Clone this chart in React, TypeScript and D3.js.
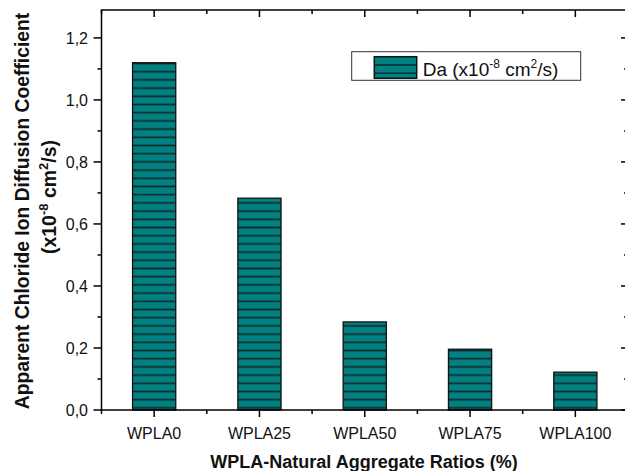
import React from "react";
import * as d3 from "d3";

const categories = ["WPLA0", "WPLA25", "WPLA50", "WPLA75", "WPLA100"];
const values = [1.12, 0.683, 0.284, 0.196, 0.122];
const yTicks = [0, 0.2, 0.4, 0.6, 0.8, 1.0, 1.2];
const yMinorTicks = [0.1, 0.3, 0.5, 0.7, 0.9, 1.1];

const W = 625;
const H = 471;
const left = 101.5;
const right = 628;
const top = 10;
const bottom = 410;

export default function App() {
  const x = d3.scaleBand<string>().domain(categories).range([left, right]).padding(0);
  const y = d3.scaleLinear().domain([0, 1.29]).range([bottom, top]);
  const bw = x.bandwidth();
  const barW = bw * 0.41;
  const fmt = (v: number) => d3.format(".1f")(v).replace(".", ",");
  const font = "'Liberation Sans', Arial, sans-serif";
  const teal = "#008080";
  const hatch = "#0f2b2b";
  const minorX = categories.slice(0, -1).map((c) => (x(c) as number) + bw);
  minorX.unshift(left);

  return (
    <svg width={W} height={H} style={{ position: "absolute", left: 0, top: 0 }} fontFamily={font}>
      <defs>
        <pattern id="hatch" patternUnits="userSpaceOnUse" x={0} y={67.6} width={20} height={8.2}>
          <rect width={20} height={8.2} fill={teal} />
          <line x1={0} x2={20} y1={4.1} y2={4.1} stroke={hatch} strokeWidth={1.7} />
        </pattern>
      </defs>
      <rect width={W} height={H} fill="#fff" />

      {categories.map((c, i) => {
        const cx = (x(c) as number) + bw / 2;
        return (
          <rect
            key={c}
            x={cx - barW / 2}
            y={y(values[i])}
            width={barW}
            height={bottom - y(values[i])}
            fill="url(#hatch)"
            stroke="#111"
            strokeWidth={1.3}
          />
        );
      })}

      {/* frame */}
      <rect x={left} y={top} width={right - left} height={bottom - top} fill="none" stroke="#000" strokeWidth={1.5} />

      {/* y ticks */}
      {yTicks.map((t) => (
        <g key={t}>
          <line x1={left - 8} x2={left} y1={y(t)} y2={y(t)} stroke="#000" strokeWidth={1.5} />
          <line x1={right - 7} x2={right} y1={y(t)} y2={y(t)} stroke="#000" strokeWidth={1.5} />
          <text x={88} y={y(t)} dy="0.35em" textAnchor="end" fontSize={16} fill="#111">
            {fmt(t)}
          </text>
        </g>
      ))}
      {yMinorTicks.map((t) => (
        <g key={t}>
          <line x1={left - 4} x2={left} y1={y(t)} y2={y(t)} stroke="#000" strokeWidth={1.5} />
          <line x1={right - 4} x2={right} y1={y(t)} y2={y(t)} stroke="#000" strokeWidth={1.5} />
        </g>
      ))}

      {/* x ticks */}
      {categories.map((c) => {
        const cx = (x(c) as number) + bw / 2;
        return (
          <g key={c}>
            <line x1={cx} x2={cx} y1={bottom} y2={bottom + 7} stroke="#000" strokeWidth={1.5} />
            <line x1={cx} x2={cx} y1={top} y2={top + 7} stroke="#000" strokeWidth={1.5} />
            <text x={cx} y={439} textAnchor="middle" fontSize={16} fill="#111">
              {c}
            </text>
          </g>
        );
      })}
      {minorX.map((mx, i) => (
        <g key={i}>
          <line x1={mx} x2={mx} y1={bottom} y2={bottom + 4} stroke="#000" strokeWidth={1.5} />
          <line x1={mx} x2={mx} y1={top} y2={top + 4} stroke="#000" strokeWidth={1.5} />
        </g>
      ))}

      {/* legend */}
      <rect x={351.7} y={51.7} width={229} height={28.6} fill="#fff" stroke="#333" strokeWidth={1} />
      <rect x={374.3} y={56.7} width={42.4} height={21.6} fill={teal} stroke="#111" strokeWidth={1.5} />
      <line x1={374.3} x2={416.7} y1={65} y2={65} stroke={hatch} strokeWidth={1.6} />
      <line x1={374.3} x2={416.7} y1={73.3} y2={73.3} stroke={hatch} strokeWidth={1.6} />
      <text x={422.7} y={75.7} fontSize={19} fill="#111">
        Da (x10
        <tspan fontSize={12} dy={-8}>-8</tspan>
        <tspan dy={8}> cm</tspan>
        <tspan fontSize={12} dy={-8}>2</tspan>
        <tspan dy={8}>/s)</tspan>
      </text>

      {/* axis titles */}
      <text x={364} y={468} textAnchor="middle" fontSize={18} fontWeight="bold" fill="#111">
        WPLA-Natural Aggregate Ratios (%)
      </text>
      <g transform="translate(29,211) rotate(-90)">
        <text x={0} y={0} textAnchor="middle" fontSize={19.3} fontWeight="bold" fill="#111">
          Apparent Chloride Ion Diffusion Coefficient
        </text>
      </g>
      <g transform="translate(56,197) rotate(-90)">
        <text x={0} y={0} textAnchor="middle" fontSize={19.5} fontWeight="bold" fill="#111">
          (x10
          <tspan fontSize={13} dy={-8}>-8</tspan>
          <tspan dy={8}> cm</tspan>
          <tspan fontSize={13} dy={-8}>2</tspan>
          <tspan dy={8}>/s)</tspan>
        </text>
      </g>
    </svg>
  );
}
